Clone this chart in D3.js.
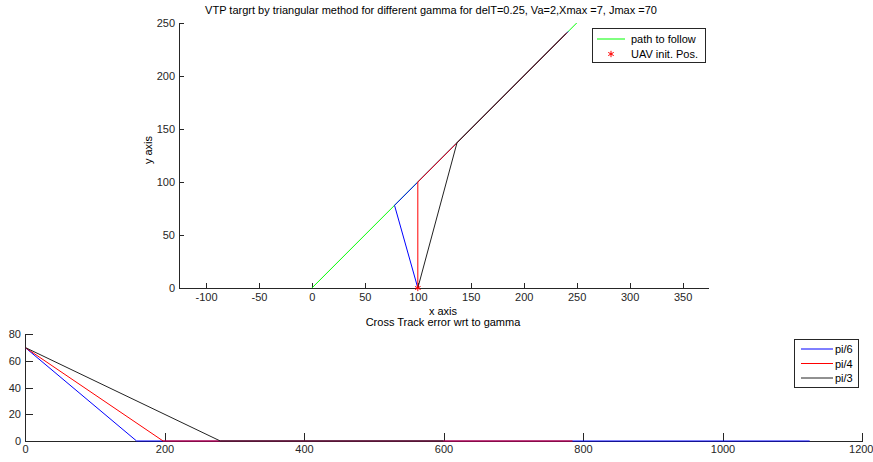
<!DOCTYPE html>
<html>
<meta charset="utf-8">
<head>
<script src="https://d3js.org/d3.v7.min.js"></script>
<style>
  body { margin: 0; background: #fff; }
  text { font-family: "Liberation Sans", Arial, sans-serif; font-size: 11px; fill: #000; }
  .axis path, .axis line { stroke: #262626; shape-rendering: crispEdges; }
  .axis text { fill: #262626; }
</style>
</head>
<body>
<script>
// top plot: VTP target paths
var pathLine = [[0, 0], [250, 250]];
var uavStart = [100, 0];
var pathBlue = [[100, 0], [78, 78], [242, 242]];
var pathRed = [[100, 0], [100, 100], [241, 241]];
var pathBlack = [[100, 0], [137, 137], [240, 240]];
var topXTicks = [-100, -50, 0, 50, 100, 150, 200, 250, 300, 350];
var topYTicks = [0, 50, 100, 150, 200, 250];

// bottom plot: cross track error
var gammaNames = ["pi/6", "pi/4", "pi/3"];
var errBlue = [[0, 70], [160, 0], [1125, 0]];
var errRed = [[0, 70], [198, 0], [785, 0]];
var errBlack = [[0, 70], [280, 0], [600, 0]];
var botXTicks = [0, 200, 400, 600, 800, 1000, 1200];
var botYTicks = [0, 20, 40, 60, 80];

var svg = d3.select("body").append("svg")
  .attr("width", 873)
  .attr("height", 462);

var line = d3.line();
var plain = function(d) { return String(d).replace("\u2212", "-"); };

// ---- top ----
var x1 = d3.scaleLinear().domain([-125.5, 374]).range([179, 708]);
var y1 = d3.scaleLinear().domain([0, 250]).range([288, 23]);

var gTop = svg.append("g");
gTop.append("g").attr("class", "axis")
  .attr("transform", "translate(0," + y1(0) + ")")
  .call(d3.axisBottom(x1).tickValues(topXTicks).tickFormat(plain)
    .tickSizeInner(-5).tickSizeOuter(0).tickPadding(5));
gTop.append("g").attr("class", "axis")
  .attr("transform", "translate(" + x1.range()[0] + ",0)")
  .call(d3.axisLeft(y1).tickValues(topYTicks).tickFormat(plain)
    .tickSizeInner(-5).tickSizeOuter(0).tickPadding(4));

function xy1(d) { return [x1(d[0]), y1(d[1])]; }
gTop.append("path").attr("d", line(pathLine.map(xy1)))
  .attr("fill", "none").attr("stroke", "#00ff00");
[[pathBlue, "#0000ff"], [pathRed, "#ff0000"], [pathBlack, "#222222"]].forEach(function(p) {
  gTop.append("path").attr("d", line(p[0].map(xy1)))
    .attr("fill", "none").attr("stroke", p[1]).attr("stroke-width", 1);
});
gTop.append("path")
  .attr("d", d3.symbol().type(d3.symbolAsterisk).size(28)())
  .attr("transform", "translate(" + x1(uavStart[0]) + "," + y1(uavStart[1]) + ")")
  .attr("fill", "none").attr("stroke", "#ff0000");

svg.append("text").attr("x", 431).attr("y", 14).attr("text-anchor", "middle")
  .text("VTP targrt by triangular method for different gamma for delT=0.25, Va=2,Xmax =7, Jmax =70");
svg.append("text").attr("x", 443).attr("y", 315).attr("text-anchor", "middle").text("x axis");
svg.append("text").attr("transform", "translate(152,150) rotate(-90)")
  .attr("text-anchor", "middle").text("y axis");

// top legend
var lg1 = svg.append("g");
lg1.append("rect").attr("x", 592.5).attr("y", 28.5).attr("width", 113).attr("height", 34)
  .attr("fill", "#fff").attr("stroke", "#262626");
lg1.append("line").attr("x1", 597).attr("x2", 625).attr("y1", 39).attr("y2", 39).attr("stroke", "#00ff00");
lg1.append("text").attr("x", 631).attr("y", 43).text("path to follow");
lg1.append("path").attr("d", d3.symbol().type(d3.symbolAsterisk).size(28)())
  .attr("transform", "translate(611,54)").attr("fill", "none").attr("stroke", "#ff0000");
lg1.append("text").attr("x", 631).attr("y", 58).text("UAV init. Pos.");

// ---- bottom ----
var x2 = d3.scaleLinear().domain([0, 1200]).range([25, 862]);
var y2 = d3.scaleLinear().domain([0, 80]).range([441, 334]);

var gBot = svg.append("g");
var bx = gBot.append("g").attr("class", "axis")
  .attr("transform", "translate(0," + y2(0) + ")")
  .call(d3.axisBottom(x2).tickValues(botXTicks).tickFormat(plain)
    .tickSizeInner(-8).tickSizeOuter(0).tickPadding(4));
// keep the last label inside the page
bx.selectAll(".tick text").filter(function(d) { return d === 1200; })
  .attr("text-anchor", "end").attr("dx", 11);
gBot.append("g").attr("class", "axis")
  .attr("transform", "translate(" + x2(0) + ",0)")
  .call(d3.axisLeft(y2).tickValues(botYTicks).tickFormat(plain)
    .tickSizeInner(-8).tickSizeOuter(0).tickPadding(4));

function xy2(d) { return [x2(d[0]), y2(d[1])]; }
var errSeries = [[errBlue, "#0000ff"], [errRed, "#ff0000"], [errBlack, "#222222"]];
errSeries.forEach(function(p) {
  gBot.append("path").attr("d", line(p[0].map(xy2)))
    .attr("fill", "none").attr("stroke", p[1]);
});

svg.append("text").attr("x", 443).attr("y", 326).attr("text-anchor", "middle")
  .text("Cross Track error wrt to gamma");

// bottom legend
var lg2 = svg.append("g");
lg2.append("rect").attr("x", 794.5).attr("y", 339.5).attr("width", 64).attr("height", 48)
  .attr("fill", "#fff").attr("stroke", "#262626");
gammaNames.forEach(function(n, i) {
  var yy = 349 + i * 14.5;
  lg2.append("line").attr("x1", 801).attr("x2", 833).attr("y1", yy).attr("y2", yy)
    .attr("stroke", errSeries[i][1]);
  lg2.append("text").attr("x", 835).attr("y", yy + 4).text(n);
});
</script>
</body>
</html>
